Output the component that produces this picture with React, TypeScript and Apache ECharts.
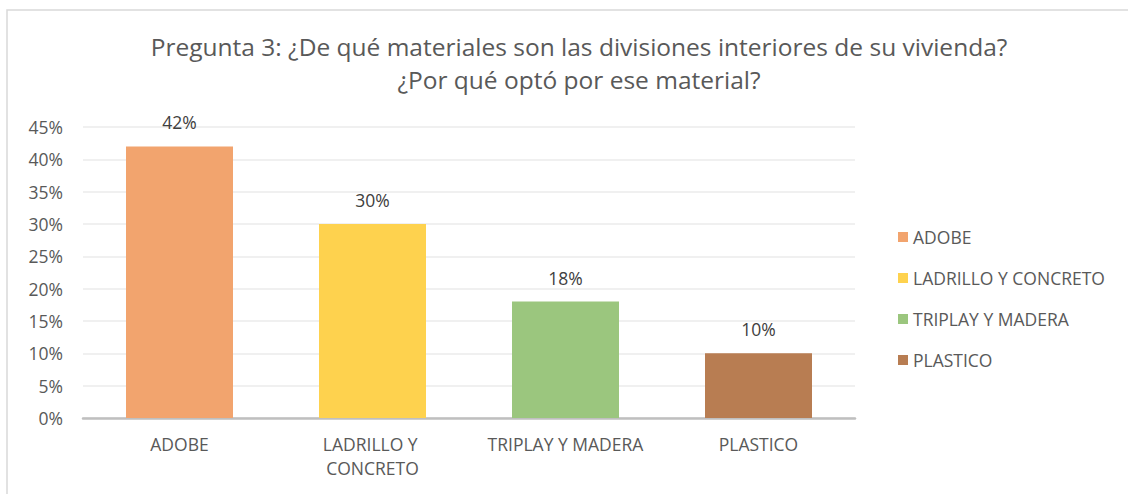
import React, { useEffect, useRef } from "react";
import * as echarts from "echarts";

const categories = ["ADOBE", "LADRILLO Y CONCRETO", "TRIPLAY Y MADERA", "PLASTICO"];
const values = [42, 30, 18, 10];
const colors = ["#F2A46E", "#FED24E", "#9BC67E", "#B87D52"];
const yTicks = [0, 5, 10, 15, 20, 25, 30, 35, 40, 45];
const titleText = "Pregunta 3: ¿De qué materiales son las divisiones interiores de su vivienda?\n¿Por qué optó por ese material?";

export default function App() {
  const ref = useRef<HTMLDivElement>(null);
  useEffect(() => {
    if (!ref.current) return;
    const chart = echarts.init(ref.current, null, { renderer: "svg" });
    const font = "'Open Sans', 'Noto Sans', sans-serif";
    const fs = 17.5;
    const series = categories.map((name, i) => ({
      name,
      type: "bar",
      stack: "all",
      barWidth: 107,
      itemStyle: { color: colors[i] },
      label: {
        show: true,
        position: "top",
        distance: 15,
        formatter: (p: any) => (p.value === "-" ? "" : `${p.value}%`),
        color: "#404040",
        fontSize: fs,
        fontFamily: font,
      },
      data: categories.map((_, j) => (j === i ? values[i] : "-")),
    }));
    chart.setOption({
      animation: false,
      backgroundColor: "#ffffff",
      title: {
        text: titleText,
        left: 574,
        textAlign: "center",
        top: 25,
        textStyle: {
          color: "#595959",
          fontSize: 24.5,
          fontWeight: "normal",
          fontFamily: font,
          lineHeight: 33,
        },
      },
      graphic: [
        {
          type: "rect",
          shape: { x: 7, y: 10, width: 1130, height: 500 },
          style: { fill: "none", stroke: "#d9d9d9", lineWidth: 1.5 },
          silent: true,
        },
      ],
      legend: {
        orient: "vertical",
        left: 893,
        top: 223,
        itemWidth: 10,
        itemHeight: 10,
        itemGap: 23,
        icon: "rect",
        textStyle: { color: "#595959", fontSize: fs, fontFamily: font },
        data: categories,
      },
      grid: { left: 83, right: 273, top: 127, bottom: 76, containLabel: false },
      xAxis: {
        type: "category",
        data: categories,
        axisLine: { lineStyle: { color: "#bfbfbf", width: 2.5 } },
        axisTick: { show: false },
        axisLabel: {
          color: "#595959",
          fontSize: fs,
          fontFamily: font,
          margin: 14,
          width: 180,
          overflow: "break",
          lineHeight: 24,
          interval: 0,
        },
      },
      yAxis: {
        type: "value",
        min: 0,
        max: 45,
        interval: 5,
        axisLabel: {
          color: "#595959",
          fontSize: fs,
          fontFamily: font,
          margin: 20,
          formatter: (v: number) => (yTicks.includes(v) ? `${v}%` : ""),
        },
        splitLine: { lineStyle: { color: "#ebebeb", width: 1.5 } },
        axisLine: { show: false },
        axisTick: { show: false },
      },
      series,
    });
    return () => chart.dispose();
  }, []);
  return (
    <div
      ref={ref}
      style={{ position: "fixed", left: 0, top: 0, width: 1128, height: 494 }}
    />
  );
}
